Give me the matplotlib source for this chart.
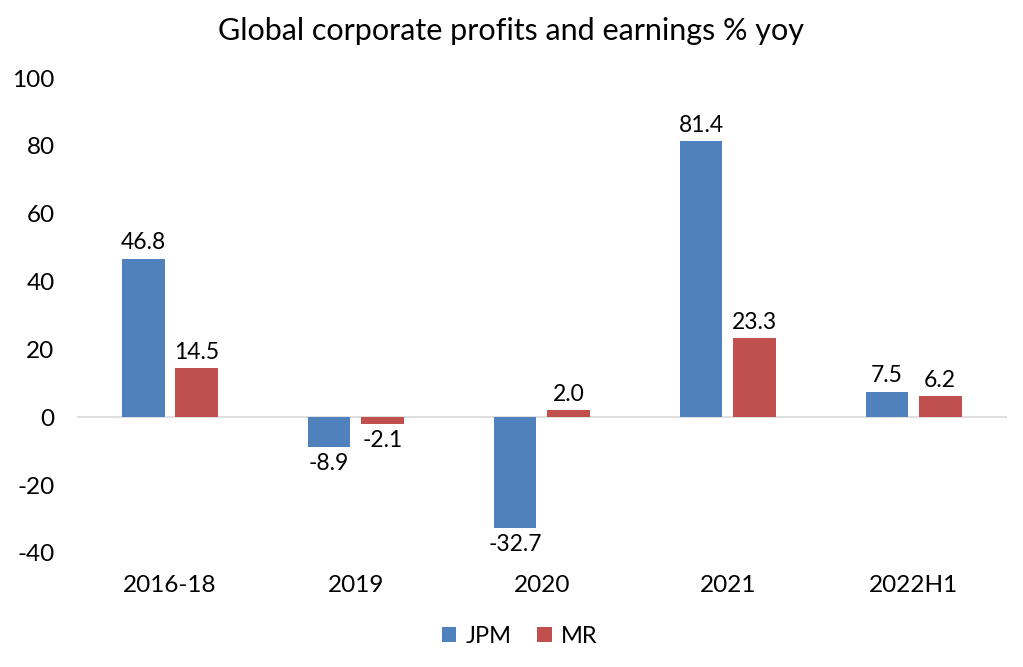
import matplotlib
matplotlib.use("Agg")
import matplotlib.pyplot as plt
import numpy as np

plt.rcParams['font.family'] = ['Lato', 'DejaVu Sans']

categories = ["2016-18", "2019", "2020", "2021", "2022H1"]
jpm = [46.8, -8.9, -32.7, 81.4, 7.5]
mr = [14.5, -2.1, 2.0, 23.3, 6.2]
yticks = [-40, -20, 0, 20, 40, 60, 80, 100]

fig = plt.figure(figsize=(10.23, 6.67), dpi=100)
ax = fig.add_axes([0.075, 0.171, 0.909, 0.712])

x = np.arange(len(categories))
w = 0.23
off = 0.143
b1 = ax.bar(x - off, jpm, w, color="#4F81BD", label="JPM")
b2 = ax.bar(x + off, mr, w, color="#C0504D", label="MR")

for bars, vals in ((b1, jpm), (b2, mr)):
    for rect, v in zip(bars, vals):
        cx = rect.get_x() + rect.get_width() / 2
        if v >= 0:
            ax.annotate(f"{v:.1f}", (cx, v), xytext=(0, 4), textcoords="offset points",
                        ha="center", va="bottom", fontsize=16.5)
        else:
            ax.annotate(f"{v:.1f}", (cx, v), xytext=(0, -4), textcoords="offset points",
                        ha="center", va="top", fontsize=16.5)

ax.axhline(0, color="#D9D9D9", lw=1.2, zorder=0)
ax.set_xlim(-0.5, len(categories) - 0.5)
ax.set_ylim(-40, 100)
ax.set_yticks(yticks)
ax.set_yticklabels([str(t) for t in yticks], fontsize=17.5)
ax.set_xticks(x)
ax.set_xticklabels(categories, fontsize=17.5)
ax.tick_params(axis="both", length=0)
ax.tick_params(axis="x", pad=16)
ax.tick_params(axis="y", pad=16)
for s in ax.spines.values():
    s.set_visible(False)

fig.suptitle("Global corporate profits and earnings % yoy", fontsize=22, y=0.975)
fig.legend(handles=[b1, b2], labels=["JPM", "MR"], loc="center", bbox_to_anchor=(0.508, 0.046),
           ncol=2, frameon=False, fontsize=17, handlelength=0.6, handleheight=0.6,
           handletextpad=0.4, columnspacing=1.1)

fig.savefig("out.png", dpi=100)
